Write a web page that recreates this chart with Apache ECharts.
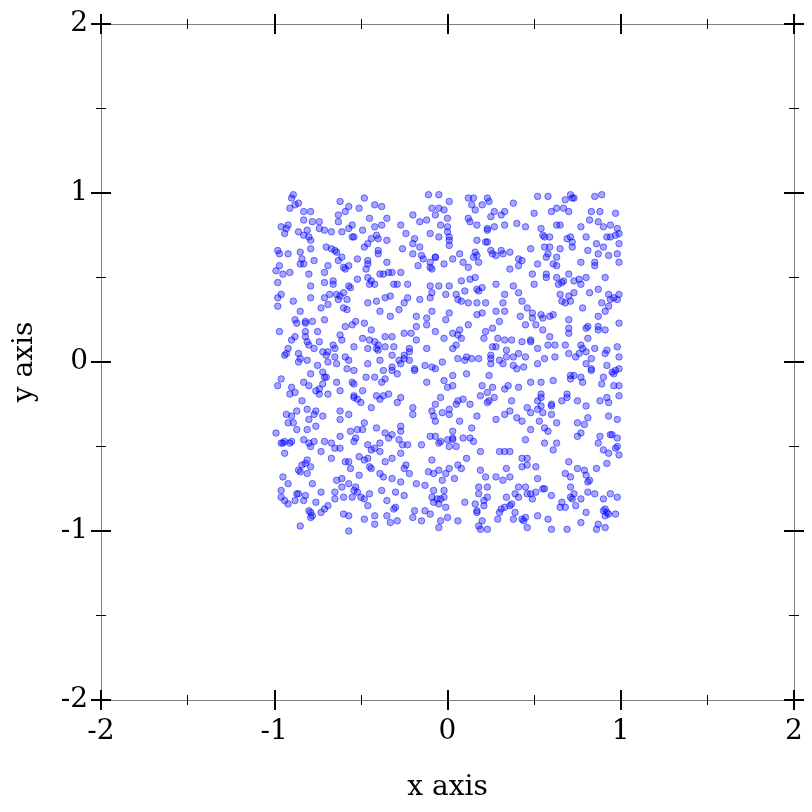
<!DOCTYPE html>
<html><head><meta charset="utf-8">
<script src="https://cdn.jsdelivr.net/npm/echarts@6/dist/echarts.min.js"></script>
<style>html,body{margin:0;padding:0;background:#fff}#c{width:812px;height:812px}</style>
</head><body><div id="c"></div>
<script>
// Points, grouped by region (x values and y values in the same order)
const xTopLeft = [-0.90,-0.89,-0.86,-0.88,-0.91,-0.83,-0.79,-0.83,-0.78,-0.62,-0.59,-0.57,-0.63,-0.63,-0.51,-0.48,-0.42,-0.38,-0.45,-0.35,
-0.96,-0.94,-0.92,-0.93,-0.86,-0.83,-0.81,-0.80,-0.79,-0.79,-0.74,-0.74,-0.71,-0.67,-0.61,-0.57,-0.55,-0.55,-0.54,-0.49,
-0.42,-0.38,-0.44,-0.46,-0.48,-0.41,-0.40,-0.35,-0.98,-0.97,-0.92,-0.85,-0.84,-0.83,-0.85,-0.77,-0.70,-0.67,-0.65,-0.64,
-0.61,-0.63,-0.59,-0.57,-0.52,-0.46,-0.46,-0.47,-0.40,-0.40,-0.35,-0.97,-0.99,-0.95,-0.91,-0.80,-0.71,-0.69,-0.60,-0.46,
-0.44,-0.42,-0.45,-0.39,-0.37,-0.98,-0.79,-0.71,-0.66,-0.66,-0.57,-0.56,-0.52,-0.96,-0.98,-0.89,-0.79,-0.71,-0.68,-0.64,
-0.62,-0.60,-0.63,-0.58,-0.46,-0.41,-0.36];
const yTopLeft = [0.97,0.99,0.94,0.93,0.91,0.89,0.89,0.84,0.83,0.95,0.89,0.92,0.87,0.83,0.91,0.97,0.93,0.92,0.85,0.85,
0.80,0.76,0.81,0.79,0.77,0.75,0.78,0.74,0.72,0.67,0.83,0.79,0.78,0.77,0.77,0.79,0.81,0.74,0.74,0.78,
0.80,0.81,0.73,0.70,0.68,0.75,0.73,0.72,0.66,0.64,0.64,0.65,0.61,0.58,0.58,0.60,0.68,0.67,0.66,0.65,
0.62,0.60,0.55,0.57,0.61,0.60,0.58,0.55,0.66,0.64,0.59,0.57,0.54,0.52,0.53,0.52,0.53,0.57,0.56,0.50,
0.48,0.46,0.46,0.52,0.52,0.47,0.45,0.47,0.48,0.46,0.45,0.44,0.49,0.40,0.38,0.36,0.38,0.38,0.40,0.40,
0.39,0.41,0.37,0.37,0.35,0.36,0.38];

const xTopMid = [-0.11,-0.05,0.01,0.12,0.15,0.23,0.24,0.14,0.20,-0.09,
-0.05,-0.02,0.16,0.33,0.27,0.31,-0.20,-0.16,-0.12,-0.07,
0.00,0.12,0.13,0.25,0.17,-0.27,-0.04,0.00,0.00,0.23,
0.23,0.27,0.33,-0.24,-0.19,-0.10,-0.05,0.01,0.01,
0.01,0.17,0.22,0.23,-0.26,-0.20,-0.16,-0.20,-0.15,-0.14,
-0.07,-0.07,0.03,0.07,0.16,0.15,0.17,0.25,0.26,0.28,
0.31,0.32,-0.17,-0.10,-0.10,-0.09,-0.02,0.09,0.12,0.18,
-0.34,-0.32,-0.27,0.13,0.16,0.08,-0.31,-0.29,-0.23,
-0.10,-0.05,-0.09,0.01,-0.01,0.05,0.10,0.17,0.18,0.20,
0.28,-0.23,-0.16,-0.10,0.06,0.08,0.12,0.17,0.22,0.32,
0.33,-0.33,-0.25];
const yTopMid = [0.99,0.99,0.95,0.97,0.97,0.97,0.95,0.93,0.93,0.91,
0.91,0.90,0.90,0.89,0.89,0.87,0.87,0.83,0.84,0.87,
0.85,0.85,0.83,0.86,0.81,0.81,0.81,0.80,0.77,0.79,
0.78,0.80,0.81,0.76,0.73,0.76,0.74,0.74,0.72,
0.69,0.72,0.71,0.71,0.67,0.70,0.68,0.64,0.63,0.61,
0.62,0.62,0.61,0.64,0.65,0.62,0.63,0.66,0.64,0.63,
0.66,0.64,0.57,0.59,0.56,0.55,0.58,0.59,0.56,0.59,
0.53,0.53,0.53,0.49,0.50,0.48,0.46,0.46,0.46,
0.45,0.45,0.41,0.45,0.40,0.40,0.42,0.43,0.42,0.44,
0.46,0.38,0.37,0.38,0.37,0.36,0.35,0.35,0.35,0.35,
0.40,0.39,0.35];

const xTopRight = [0.38,0.52,0.58,0.68,0.71,0.72,0.73,0.85,0.89,0.50,
0.60,0.63,0.67,0.70,0.83,0.88,0.97,0.40,0.45,0.54,
0.63,0.65,0.77,0.82,0.87,0.90,0.94,0.98,0.99,0.55,
0.56,0.59,0.69,0.71,0.72,0.72,0.80,0.92,0.94,0.97,
0.99,0.36,0.48,0.56,0.59,0.58,0.57,0.65,0.81,0.86,
0.90,0.87,0.93,0.98,0.41,0.43,0.41,0.52,0.61,0.63,
0.63,0.77,0.85,0.85,0.99,0.36,0.49,0.57,0.57,0.63,
0.70,0.73,0.77,0.76,0.80,0.91,0.50,0.66,0.67,0.64,
0.38,0.41,0.43,0.65,0.70,0.73,0.82,0.87,0.93,
0.96,0.94,0.98,0.66,0.71,0.68,0.89,0.99];
const yTopRight = [0.94,0.98,0.98,0.96,0.99,0.97,0.97,0.98,0.99,0.88,
0.89,0.91,0.91,0.89,0.89,0.89,0.88,0.82,0.80,0.79,
0.81,0.81,0.80,0.84,0.83,0.80,0.81,0.79,0.76,0.75,
0.74,0.74,0.73,0.74,0.71,0.68,0.74,0.74,0.74,0.75,
0.70,0.65,0.67,0.68,0.68,0.64,0.62,0.67,0.66,0.70,
0.68,0.64,0.63,0.64,0.61,0.60,0.57,0.58,0.58,0.62,
0.57,0.59,0.59,0.57,0.59,0.55,0.52,0.52,0.50,0.50,
0.52,0.48,0.46,0.49,0.50,0.50,0.46,0.47,0.48,0.46,
0.45,0.41,0.36,0.40,0.39,0.41,0.41,0.43,0.40,
0.38,0.37,0.37,0.36,0.36,0.35,0.35,0.40];

const xMidLeft = [-0.98,-0.85,-0.73,-0.69,-0.60,-0.58,-0.39,-0.88,-0.87,
-0.82,-0.82,-0.78,-0.71,-0.59,-0.55,-0.53,-0.48,-0.44,-0.97,
-0.90,-0.88,-0.82,-0.82,-0.81,-0.75,-0.74,-0.62,-0.61,-0.49,
-0.45,-0.42,-0.40,-0.36,-0.92,-0.93,-0.94,-0.86,-0.85,-0.86,
-0.80,-0.77,-0.72,-0.70,-0.69,-0.66,-0.65,-0.65,-0.64,-0.59,
-0.57,-0.54,-0.46,-0.41,-0.40,-0.36,-0.75,-0.81,-0.69,-0.58,
-0.54,-0.46,-0.39,-0.37,-0.96,-0.98,-0.90,-0.91,-0.88,-0.83,
-0.80,-0.79,-0.72,-0.71,-0.70,-0.72,-0.74,-0.76,-0.74,-0.69,
-0.64,-0.62,-0.55,-0.54,-0.47,-0.42,-0.49,-0.38,-0.36,-0.84,
-0.54,-0.54,-0.50,-0.52,-0.41,-0.39,-0.37,-0.44,-0.93,-0.90,
-0.87,-0.81,-0.80,-0.77,-0.76,-0.72,-0.62,-0.62,-0.57,-0.89,
-0.92,-0.48];
const yMidLeft = [0.33,0.30,0.32,0.34,0.32,0.31,0.30,0.25,0.23,
0.24,0.23,0.24,0.25,0.21,0.22,0.24,0.23,0.19,0.18,
0.13,0.15,0.18,0.15,0.12,0.18,0.12,0.16,0.13,0.14,
0.13,0.12,0.10,0.15,0.08,0.05,0.04,0.05,0.02,0.00,
0.10,0.08,0.06,0.04,0.06,0.10,0.08,0.03,-0.01,0.03,
0.01,0.09,0.08,0.08,0.07,0.09,-0.02,0.01,0.00,-0.04,
-0.05,-0.01,0.01,-0.05,-0.10,-0.14,-0.15,-0.19,-0.18,-0.12,
-0.14,-0.07,-0.06,-0.09,-0.09,-0.13,-0.16,-0.17,-0.19,-0.19,
-0.12,-0.17,-0.12,-0.13,-0.09,-0.09,-0.17,-0.12,-0.10,-0.23,
-0.20,-0.21,-0.24,-0.22,-0.20,-0.22,-0.20,-0.27,-0.31,-0.32,
-0.29,-0.28,-0.34,-0.31,-0.29,-0.32,-0.29,-0.34,-0.31,-0.36,
-0.36,-0.36];

const xCenter = [-0.28,-0.33,-0.18,-0.12,-0.09,-0.01,0.01,0.17,0.20,0.28,
0.33,0.30,-0.18,-0.12,-0.07,-0.02,0.03,0.06,0.07,0.08,
0.12,0.22,0.21,0.26,0.29,0.33,0.26,0.28,0.34,-0.32,
-0.31,-0.25,-0.21,-0.18,-0.22,-0.22,-0.32,-0.25,-0.25,-0.28,
-0.12,0.03,0.05,0.06,0.10,0.11,0.14,0.18,0.25,0.25,
0.25,0.30,0.34,-0.22,-0.27,-0.19,-0.19,-0.13,-0.09,-0.07,
-0.03,0.11,0.03,0.24,0.32,-0.32,-0.32,-0.29,-0.12,-0.02,
0.00,0.03,0.20,0.26,0.33,-0.34,-0.27,-0.29,-0.04,0.06,
0.09,0.13,0.19,0.23,0.23,0.24,0.27,-0.20,-0.20,-0.09,
-0.07,-0.08,-0.07,-0.03,0.01,0.01,0.07,0.17,0.28,0.33,
0.05];
const yCenter = [0.31,0.27,0.27,0.26,0.30,0.25,0.29,0.28,0.29,0.30,
0.30,0.24,0.21,0.22,0.18,0.14,0.17,0.16,0.19,0.14,
0.22,0.18,0.14,0.20,0.14,0.13,0.09,0.09,0.07,0.15,
0.09,0.17,0.17,0.13,0.08,0.06,0.04,0.04,0.02,0.01,
0.08,0.08,0.10,0.02,0.01,0.03,0.02,0.02,0.04,0.02,
-0.01,0.01,0.03,0.01,-0.01,-0.04,-0.05,-0.02,-0.03,-0.04,
0.00,-0.07,-0.08,-0.08,-0.01,-0.03,-0.05,-0.07,-0.12,-0.11,
-0.15,-0.14,-0.14,-0.15,-0.16,-0.19,-0.21,-0.24,-0.21,-0.23,
-0.22,-0.25,-0.20,-0.18,-0.24,-0.23,-0.21,-0.27,-0.31,-0.29,
-0.25,-0.32,-0.35,-0.30,-0.28,-0.31,-0.35,-0.32,-0.34,-0.31,
-0.25];

const xMidRight = [0.42,0.46,0.49,0.49,0.54,0.55,0.59,0.61,0.70,0.78,
0.87,0.91,0.93,0.99,0.45,0.51,0.55,0.70,0.70,0.80,
0.81,0.87,0.87,0.91,0.37,0.43,0.48,0.48,0.52,0.59,
0.58,0.62,0.68,0.77,0.78,0.81,0.85,0.91,0.92,0.98,
0.99,0.38,0.41,0.45,0.56,0.62,0.70,0.74,0.76,0.80,
0.83,0.38,0.40,0.44,0.52,0.80,0.83,0.83,0.92,0.95,
0.97,0.96,0.99,0.48,0.54,0.61,0.71,0.71,0.73,0.77,
0.78,0.89,0.90,0.96,0.99,0.35,0.41,0.37,0.54,0.54,
0.52,0.54,0.60,0.60,0.66,0.69,0.69,0.75,0.80,0.88,
0.92,0.93,0.99,0.36,0.40,0.43,0.46,0.48,0.52,0.55,
0.60,0.63,0.75,0.81,0.93,0.98,0.53];
const yMidRight = [0.27,0.32,0.29,0.26,0.28,0.26,0.27,0.28,0.25,0.32,
0.27,0.30,0.33,0.23,0.22,0.22,0.19,0.20,0.17,0.20,
0.21,0.21,0.19,0.19,0.13,0.12,0.12,0.13,0.08,0.15,
0.10,0.10,0.10,0.10,0.08,0.14,0.08,0.05,0.07,0.09,
0.03,0.03,0.05,0.03,0.02,0.03,0.05,0.03,0.05,0.06,
0.02,-0.02,-0.04,-0.03,-0.01,-0.01,-0.04,-0.05,-0.02,-0.06,
-0.05,-0.07,-0.04,-0.12,-0.12,-0.11,-0.10,-0.08,-0.08,-0.09,
-0.12,-0.13,-0.09,-0.14,-0.14,-0.14,-0.15,-0.23,-0.19,-0.21,
-0.23,-0.26,-0.25,-0.26,-0.23,-0.19,-0.21,-0.23,-0.26,-0.23,
-0.21,-0.24,-0.20,-0.29,-0.33,-0.35,-0.27,-0.30,-0.28,-0.30,
-0.31,-0.36,-0.36,-0.33,-0.32,-0.34,-0.35];

const xBottomLeft = [-0.99,-0.87,-0.81,-0.76,-0.56,-0.52,-0.49,-0.41,-0.36,-0.39,
-0.96,-0.95,-0.94,-0.90,-0.91,-0.94,-0.83,-0.80,-0.77,-0.79,
-0.73,-0.71,-0.67,-0.65,-0.62,-0.62,-0.53,-0.54,-0.46,-0.44,
-0.42,-0.86,-0.84,-0.82,-0.81,-0.79,-0.85,-0.81,-0.67,-0.59,
-0.57,-0.56,-0.51,-0.48,-0.46,-0.45,-0.44,-0.39,-0.36,-0.95,
-0.92,-0.96,-0.96,-0.94,-0.92,-0.87,-0.86,-0.82,-0.83,-0.88,
-0.78,-0.73,-0.76,-0.80,-0.79,-0.79,-0.73,-0.71,-0.69,-0.78,
-0.64,-0.61,-0.65,-0.65,-0.61,-0.60,-0.57,-0.55,-0.54,-0.53,
-0.52,-0.51,-0.50,-0.48,-0.45,-0.46,-0.38,-0.39,-0.37,-0.35,
-0.35,-0.60,-0.57,-0.48,-0.42,-0.42,-0.85,-0.57];
const yBottomLeft = [-0.42,-0.40,-0.40,-0.38,-0.41,-0.40,-0.40,-0.39,-0.42,-0.48,
-0.48,-0.48,-0.47,-0.47,-0.48,-0.54,-0.46,-0.48,-0.47,-0.50,
-0.53,-0.47,-0.48,-0.51,-0.44,-0.51,-0.45,-0.47,-0.49,-0.52,
-0.51,-0.64,-0.61,-0.60,-0.58,-0.62,-0.65,-0.66,-0.57,-0.59,
-0.59,-0.63,-0.56,-0.58,-0.57,-0.62,-0.63,-0.53,-0.59,-0.68,
-0.72,-0.76,-0.80,-0.82,-0.84,-0.78,-0.78,-0.79,-0.82,-0.82,
-0.72,-0.77,-0.83,-0.88,-0.89,-0.92,-0.89,-0.87,-0.85,-0.91,
-0.70,-0.69,-0.77,-0.81,-0.74,-0.80,-0.72,-0.80,-0.76,-0.74,
-0.77,-0.67,-0.80,-0.81,-0.78,-0.85,-0.76,-0.66,-0.68,-0.82,
-0.91,-0.90,-0.91,-0.93,-0.91,-0.96,-0.97,-1.00];

const xBottomMid = [-0.27,-0.27,-0.32,-0.34,-0.10,-0.07,-0.04,-0.05,0.00,0.03,
0.03,0.03,0.01,0.05,0.09,0.13,0.14,0.15,-0.28,-0.26,
-0.23,-0.15,-0.27,-0.32,-0.25,-0.24,-0.22,-0.09,-0.11,-0.08,
-0.05,-0.03,-0.01,0.01,0.04,0.06,0.08,0.11,0.19,0.19,
0.22,0.23,0.30,0.33,0.28,0.32,0.34,-0.32,-0.27,-0.18,
-0.13,-0.08,-0.02,-0.09,-0.08,-0.06,-0.04,-0.02,-0.05,-0.30,
-0.25,-0.30,-0.31,0.18,0.18,0.21,0.21,0.16,0.17,0.17,
0.10,0.23,0.30,0.31,0.33,0.34,-0.19,-0.20,-0.13,-0.10,
-0.01,0.00,-0.04,-0.05,-0.33,-0.29,-0.15,0.06,0.18,0.20,
0.19,0.23,0.29];
const yBottomMid = [-0.38,-0.41,-0.43,-0.45,-0.44,-0.44,-0.47,-0.48,-0.46,-0.46,
-0.41,-0.45,-0.50,-0.50,-0.45,-0.45,-0.39,-0.47,-0.46,-0.49,
-0.49,-0.49,-0.54,-0.57,-0.63,-0.61,-0.66,-0.58,-0.65,-0.66,
-0.64,-0.70,-0.66,-0.63,-0.69,-0.61,-0.63,-0.57,-0.53,-0.64,
-0.68,-0.74,-0.53,-0.53,-0.68,-0.70,-0.63,-0.69,-0.71,-0.72,
-0.73,-0.76,-0.76,-0.80,-0.83,-0.81,-0.81,-0.80,-0.84,-0.77,
-0.79,-0.86,-0.87,-0.74,-0.78,-0.82,-0.85,-0.84,-0.88,-0.89,
-0.83,-0.80,-0.89,-0.87,-0.86,-0.80,-0.88,-0.92,-0.88,-0.90,
-0.86,-0.92,-0.94,-0.98,-0.95,-0.94,-0.94,-0.94,-0.97,-0.94,
-0.99,-0.99,-0.93];

const xBottomRight = [0.48,0.56,0.58,0.79,0.75,0.77,0.88,0.87,0.94,0.98,
0.95,0.45,0.56,0.61,0.63,0.90,0.93,0.97,0.98,0.99,
0.36,0.43,0.46,0.43,0.46,0.51,0.52,0.36,0.70,0.68,
0.71,0.75,0.79,0.80,0.81,0.82,0.86,0.92,0.71,0.39,
0.41,0.45,0.46,0.49,0.48,0.51,0.55,0.56,0.60,0.36,
0.37,0.41,0.65,0.66,0.68,0.71,0.72,0.73,0.74,0.77,
0.81,0.85,0.80,0.90,0.94,0.98,0.91,0.92,0.91,0.93,
0.97,0.90,0.39,0.38,0.43,0.44,0.45,0.46,0.52,0.58,
0.60,0.69,0.77,0.87,0.86,0.91];
const yBottomRight = [-0.40,-0.39,-0.41,-0.37,-0.44,-0.42,-0.44,-0.48,-0.43,-0.45,
-0.43,-0.46,-0.48,-0.52,-0.48,-0.52,-0.54,-0.51,-0.50,-0.55,
-0.53,-0.57,-0.57,-0.62,-0.61,-0.62,-0.69,-0.68,-0.59,-0.66,
-0.68,-0.63,-0.64,-0.67,-0.71,-0.70,-0.63,-0.60,-0.74,-0.78,
-0.74,-0.74,-0.78,-0.81,-0.78,-0.77,-0.75,-0.75,-0.79,-0.85,
-0.84,-0.80,-0.86,-0.83,-0.86,-0.80,-0.81,-0.78,-0.85,-0.81,
-0.77,-0.78,-0.89,-0.81,-0.78,-0.80,-0.87,-0.89,-0.91,-0.90,
-0.90,-0.88,-0.89,-0.93,-0.93,-0.94,-0.92,-0.98,-0.91,-0.93,
-0.99,-0.99,-0.95,-0.96,-0.99,-0.98];

const xRegions = [xTopLeft, xTopMid, xTopRight, xMidLeft, xCenter, xMidRight, xBottomLeft, xBottomMid, xBottomRight];
const yRegions = [yTopLeft, yTopMid, yTopRight, yMidLeft, yCenter, yMidRight, yBottomLeft, yBottomMid, yBottomRight];

const axisMin = -2, axisMax = 2, axisStep = 1;
const xName = 'x axis', yName = 'y axis';

const points = [];
xRegions.forEach((xs, r) => {
  const ys = yRegions[r];
  const n = Math.min(xs.length, ys.length);
  for (let i = 0; i < n; i++) points.push([xs[i], ys[i]]);
});

const FONT = 'DejaVu Serif';
const FS = 28;

function axis(pos, inside, showLine, showLabel, extra) {
  return Object.assign({
    type: 'value', position: pos, min: axisMin, max: axisMax, interval: axisStep,
    axisLine: { show: showLine, onZero: false, lineStyle: { color: '#808080', width: 1 } },
    axisTick: { show: true, inside: inside, length: 10, lineStyle: { color: '#000', width: 2 } },
    minorTick: { show: true, splitNumber: 2, length: 5, lineStyle: { color: '#000', width: 1 } },
    axisLabel: { show: showLabel, color: '#000', fontFamily: FONT, fontSize: FS },
    splitLine: { show: false }, minorSplitLine: { show: false },
    axisPointer: { show: false }
  }, extra || {});
}

const xLabelExtra = {
  name: xName, nameLocation: 'middle', nameGap: 74,
  nameTextStyle: { color: '#000', fontFamily: FONT, fontSize: FS }
};
const yLabelExtra = {
  name: yName, nameLocation: 'middle', nameGap: 62,
  nameTextStyle: { color: '#000', fontFamily: FONT, fontSize: FS }
};

const xa0 = axis('bottom', false, true, true, xLabelExtra);
xa0.axisLabel.margin = 18;
const ya0 = axis('left', false, true, true, yLabelExtra);
ya0.axisLabel.margin = 13;

const chart = echarts.init(document.getElementById('c'), null, { renderer: 'canvas' });
chart.setOption({
  animation: false,
  backgroundColor: '#fff',
  grid: { left: 101, right: 18, top: 24, bottom: 112, containLabel: false, outerBoundsMode: 'none' },
  xAxis: [
    xa0,
    axis('bottom', true, false, false),
    axis('top', false, true, false),
    axis('top', true, false, false)
  ],
  yAxis: [
    ya0,
    axis('left', true, false, false),
    axis('right', false, true, false),
    axis('right', true, false, false)
  ],
  series: [{
    type: 'scatter',
    xAxisIndex: 0, yAxisIndex: 0,
    symbol: 'circle',
    symbolSize: 6.5,
    data: points,
    itemStyle: { color: 'rgba(0,0,255,0.35)', borderColor: 'rgba(0,0,255,0.5)', borderWidth: 1, opacity: 1 },
    emphasis: { disabled: true }
  }]
});
</script></body></html>
